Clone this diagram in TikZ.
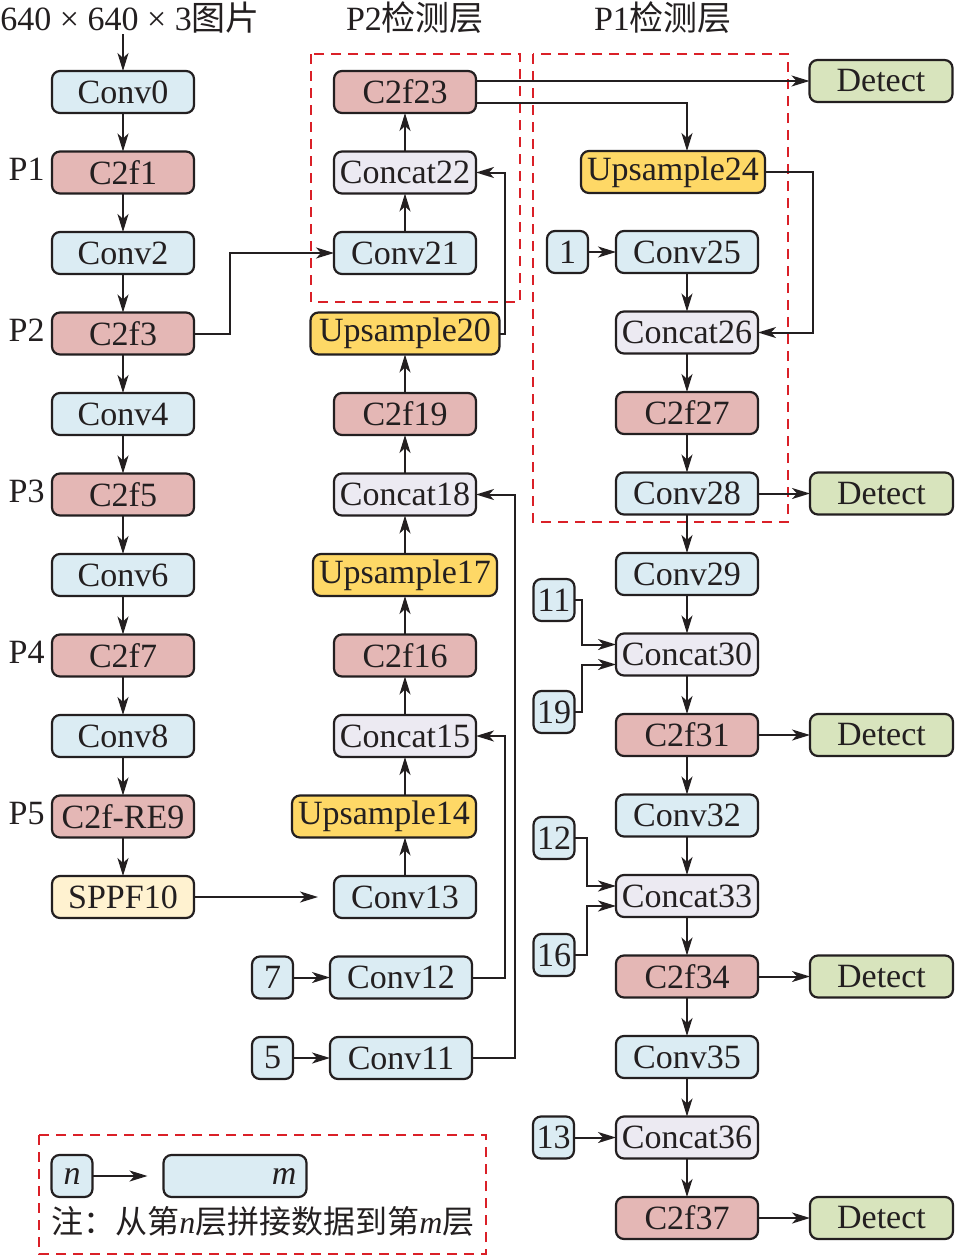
\documentclass[tikz,border=0pt]{standalone}
\usepackage{fontspec}
\setmainfont{Liberation Serif}
\newfontfamily\cjk{Noto Sans CJK SC}
\usetikzlibrary{positioning,arrows.meta}
\definecolor{convblue}{RGB}{219,236,243}
\definecolor{cfred}{RGB}{228,183,181}
\definecolor{catgray}{RGB}{236,234,242}
\definecolor{upyellow}{RGB}{254,216,102}
\definecolor{sppfcream}{RGB}{255,242,208}
\definecolor{detgreen}{RGB}{216,228,189}
\definecolor{dashred}{RGB}{218,32,40}
\definecolor{ink}{RGB}{35,31,32}
\tikzset{
  blk/.style={draw=ink, text=ink, rounded corners=4pt, line width=1.1pt,
    minimum width=71pt, minimum height=21pt, inner sep=0pt, outer sep=0pt,
    font=\fontsize{17}{20}\selectfont},
  conv/.style={blk, fill=convblue},
  cf/.style={blk, fill=cfred},
  cat/.style={blk, fill=catgray},
  ups/.style={blk, fill=upyellow, minimum width=92pt},
  sppf/.style={blk, fill=sppfcream},
  det/.style={blk, fill=detgreen, minimum width=71.5pt},
  idx/.style={blk, fill=convblue, minimum width=20.5pt},
  plabel/.style={text=ink, inner sep=0pt, font=\fontsize{17}{20}\selectfont},
  arr/.style={draw=ink, line width=1pt, -{Stealth[length=9pt,width=5.5pt,inset=2.5pt]}},
  region/.style={draw=dashred, line width=0.9pt, dash pattern=on 5pt off 3.5pt}
}

\begin{document}
\begin{tikzpicture}[x=0.5pt, y=-0.5pt, node distance=19.25pt]
	  \useasboundingbox (0,0) rectangle (959,1259);

	  % Detection regions
	  \draw[region] (311,54) rectangle (520,302);
	  \draw[region] (533,54) rectangle (788,522);
	  \draw[region] (39,1135) rectangle (486,1254);

	  % Titles
	  \node[plabel, anchor=west] (input) at (0,18) {640 × 640 × 3{\cjk 图片}};
	  \node[plabel] (P2title) at (415,18) {P2{\cjk 检测层}};
	  \node[plabel] (P1title) at (663,18) {P1{\cjk 检测层}};

	  % Backbone
	  \node[conv]                    (Conv0)  at (123,92) {Conv0};
	  \node[cf, below=of Conv0]      (C2f1)   {C2f1};
	  \node[conv, below=of C2f1]     (Conv2)  {Conv2};
	  \node[cf, below=of Conv2]      (C2f3)   {C2f3};
	  \node[conv, below=of C2f3]     (Conv4)  {Conv4};
	  \node[cf, below=of Conv4]      (C2f5)   {C2f5};
	  \node[conv, below=of C2f5]     (Conv6)  {Conv6};
	  \node[cf, below=of Conv6]      (C2f7)   {C2f7};
	  \node[conv, below=of C2f7]     (Conv8)  {Conv8};
	  \node[cf, below=of Conv8]      (C2fRE9) {C2f-RE9};
	  \node[sppf, below=of C2fRE9]   (SPPF10) {SPPF10};

	  \node[plabel, left=3.5pt of C2f1, yshift=1.5pt]   (P1) {P1};
	  \node[plabel, left=3.5pt of C2f3, yshift=1.5pt]   (P2) {P2};
	  \node[plabel, left=3.5pt of C2f5, yshift=1.5pt]   (P3) {P3};
	  \node[plabel, left=3.5pt of C2f7, yshift=1.5pt]   (P4) {P4};
	  \node[plabel, left=3.5pt of C2fRE9, yshift=1.5pt] (P5) {P5};

	  % Neck, upward path
	  \node[cf]                               (C2f23)      at (405,92) {C2f23};
	  \node[cat, below=of C2f23]              (Concat22)   {Concat22};
	  \node[conv, below=of Concat22]          (Conv21)     {Conv21};
	  \node[ups, below=of Conv21, minimum width=94.5pt] (Upsample20) {Upsample20};
	  \node[cf, below=of Upsample20]          (C2f19)      {C2f19};
	  \node[cat, below=of C2f19]              (Concat18)   {Concat18};
	  \node[ups, below=of Concat18]           (Upsample17) {Upsample17};
	  \node[cf, below=of Upsample17]          (C2f16)      {C2f16};
	  \node[cat, below=of C2f16]              (Concat15)   {Concat15};
	  \node[ups, below=of Concat15, xshift=-10.5pt] (Upsample14) {Upsample14};
	  \node[conv, below=of Upsample14, xshift=10.5pt] (Conv13) {Conv13};
	  \node[conv, below=of Conv13, xshift=-2pt] (Conv12)   {Conv12};
	  \node[conv, below=of Conv12]            (Conv11)     {Conv11};
	  \node[idx, left=18.5pt of Conv12]       (i7)         {7};
	  \node[idx, left=18.5pt of Conv11]       (i5)         {5};

	  % Head, downward path
	  \node[ups]                        (Upsample24) at (673,172) {Upsample24};
	  \node[conv]                       (Conv25)     at (687,252) {Conv25};
	  \node[cat, below=of Conv25]       (Concat26)   {Concat26};
	  \node[cf, below=of Concat26]      (C2f27)      {C2f27};
	  \node[conv, below=of C2f27]       (Conv28)     {Conv28};
	  \node[conv, below=of Conv28]      (Conv29)     {Conv29};
	  \node[cat, below=of Conv29]       (Concat30)   {Concat30};
	  \node[cf, below=of Concat30]      (C2f31)      {C2f31};
	  \node[conv, below=of C2f31]       (Conv32)     {Conv32};
	  \node[cat, below=of Conv32]       (Concat33)   {Concat33};
	  \node[cf, below=of Concat33]      (C2f34)      {C2f34};
	  \node[conv, below=of C2f34]       (Conv35)     {Conv35};
	  \node[cat, below=of Conv35]       (Concat36)   {Concat36};
	  \node[cf, below=of Concat36]      (C2f37)      {C2f37};

	  \node[idx, left=14pt of Conv25]   (i1)  {1};
	  \node[idx]                        (i11) at (554,600) {11};
	  \node[idx]                        (i19) at (554,712) {19};
	  \node[idx]                        (i12) at (554,838) {12};
	  \node[idx]                        (i16) at (554,955) {16};
	  \node[idx, left=21pt of Concat36] (i13) {13};

	  \node[det]                        (Det0) at (881,81) {Detect};
	  \node[det, right=26pt of Conv28]  (Det1) {Detect};
	  \node[det, right=26pt of C2f31]   (Det2) {Detect};
	  \node[det, right=26pt of C2f34]   (Det3) {Detect};
	  \node[det, right=26pt of C2f37]   (Det4) {Detect};

	  % Legend
	  \node[idx]                        (ln) at (72,1176) {\textit{n}};
	  \node[conv, minimum width=71.5pt, text width=61.5pt, align=right] (lm) at (235,1176) {\textit{m}};
	  \node[plabel, anchor=west, font=\fontsize{16}{19}\selectfont] (note) at (51,1221)
	    {{\cjk 注：从第}\textit{n}{\cjk 层拼接数据到第}\textit{m}{\cjk 层}};

	  % Connect the nodes
	  \draw[arr] (input.south -| Conv0) -- (Conv0);
	  \path (Conv0) edge[arr] (C2f1) (C2f1) edge[arr] (Conv2) (Conv2) edge[arr] (C2f3)
	        (C2f3) edge[arr] (Conv4) (Conv4) edge[arr] (C2f5) (C2f5) edge[arr] (Conv6)
	        (Conv6) edge[arr] (C2f7) (C2f7) edge[arr] (Conv8) (Conv8) edge[arr] (C2fRE9)
	        (C2fRE9) edge[arr] (SPPF10);
	  \draw[arr, shorten >=8pt] (SPPF10) -- (Conv13);
	  \draw[arr] (C2f3.east) -- ++(18pt,0) |- (Conv21.west);

	  \draw[arr] (Conv13) -- (Conv13 |- Upsample14.south);
	  \draw[arr] (Upsample14.north -| Concat15) -- (Concat15);
	  \path (Concat15) edge[arr] (C2f16) (C2f16) edge[arr] (Upsample17)
	        (Upsample17) edge[arr] (Concat18) (Concat18) edge[arr] (C2f19)
	        (C2f19) edge[arr] (Upsample20) (Conv21) edge[arr] (Concat22)
	        (Concat22) edge[arr] (C2f23);
	  \draw[arr] (Upsample20.east) -- ++(2.5pt,0) |- (Concat22.east);
	  \draw[arr] (Conv12.east) -- ++(16.5pt,0) |- (Concat15.east);
	  \draw[arr] (Conv11.east) -- ++(21.5pt,0) |- (Concat18.east);
	  \draw[arr] (i7) -- (Conv12);
	  \draw[arr] (i5) -- (Conv11);

	  \draw[arr] (C2f23.east |- Det0) -- (Det0);
	  \draw[arr] ([yshift=-5.5pt]C2f23.east) -| (Conv25 |- Upsample24.north);
	  \draw[arr] (Upsample24.east) -- ++(24pt,0) |- (Concat26.east);
	  \draw[arr] (i1) -- (Conv25);
	  \path (Conv25) edge[arr] (Concat26) (Concat26) edge[arr] (C2f27)
	        (C2f27) edge[arr] (Conv28) (Conv28) edge[arr] (Conv29)
	        (Conv29) edge[arr] (Concat30) (Concat30) edge[arr] (C2f31)
	        (C2f31) edge[arr] (Conv32) (Conv32) edge[arr] (Concat33)
	        (Concat33) edge[arr] (C2f34) (C2f34) edge[arr] (Conv35)
	        (Conv35) edge[arr] (Concat36) (Concat36) edge[arr] (C2f37);
	  \draw[arr] (i11.east) -- ++(3.5pt,0) |- ([yshift=5pt]Concat30.west);
	  \draw[arr] (i19.east) -- ++(3.5pt,0) |- ([yshift=-5pt]Concat30.west);
	  \draw[arr] (i12.east) -- ++(6pt,0) |- ([yshift=5pt]Concat33.west);
	  \draw[arr] (i16.east) -- ++(6pt,0) |- ([yshift=-5pt]Concat33.west);
	  \draw[arr] (i13) -- (Concat36);
	  \path (Conv28) edge[arr] (Det1) (C2f31) edge[arr] (Det2)
	        (C2f34) edge[arr] (Det3) (C2f37) edge[arr] (Det4);

	  \draw[arr, shorten >=8pt] (ln) -- (lm);
	\end{tikzpicture}
\end{document}
